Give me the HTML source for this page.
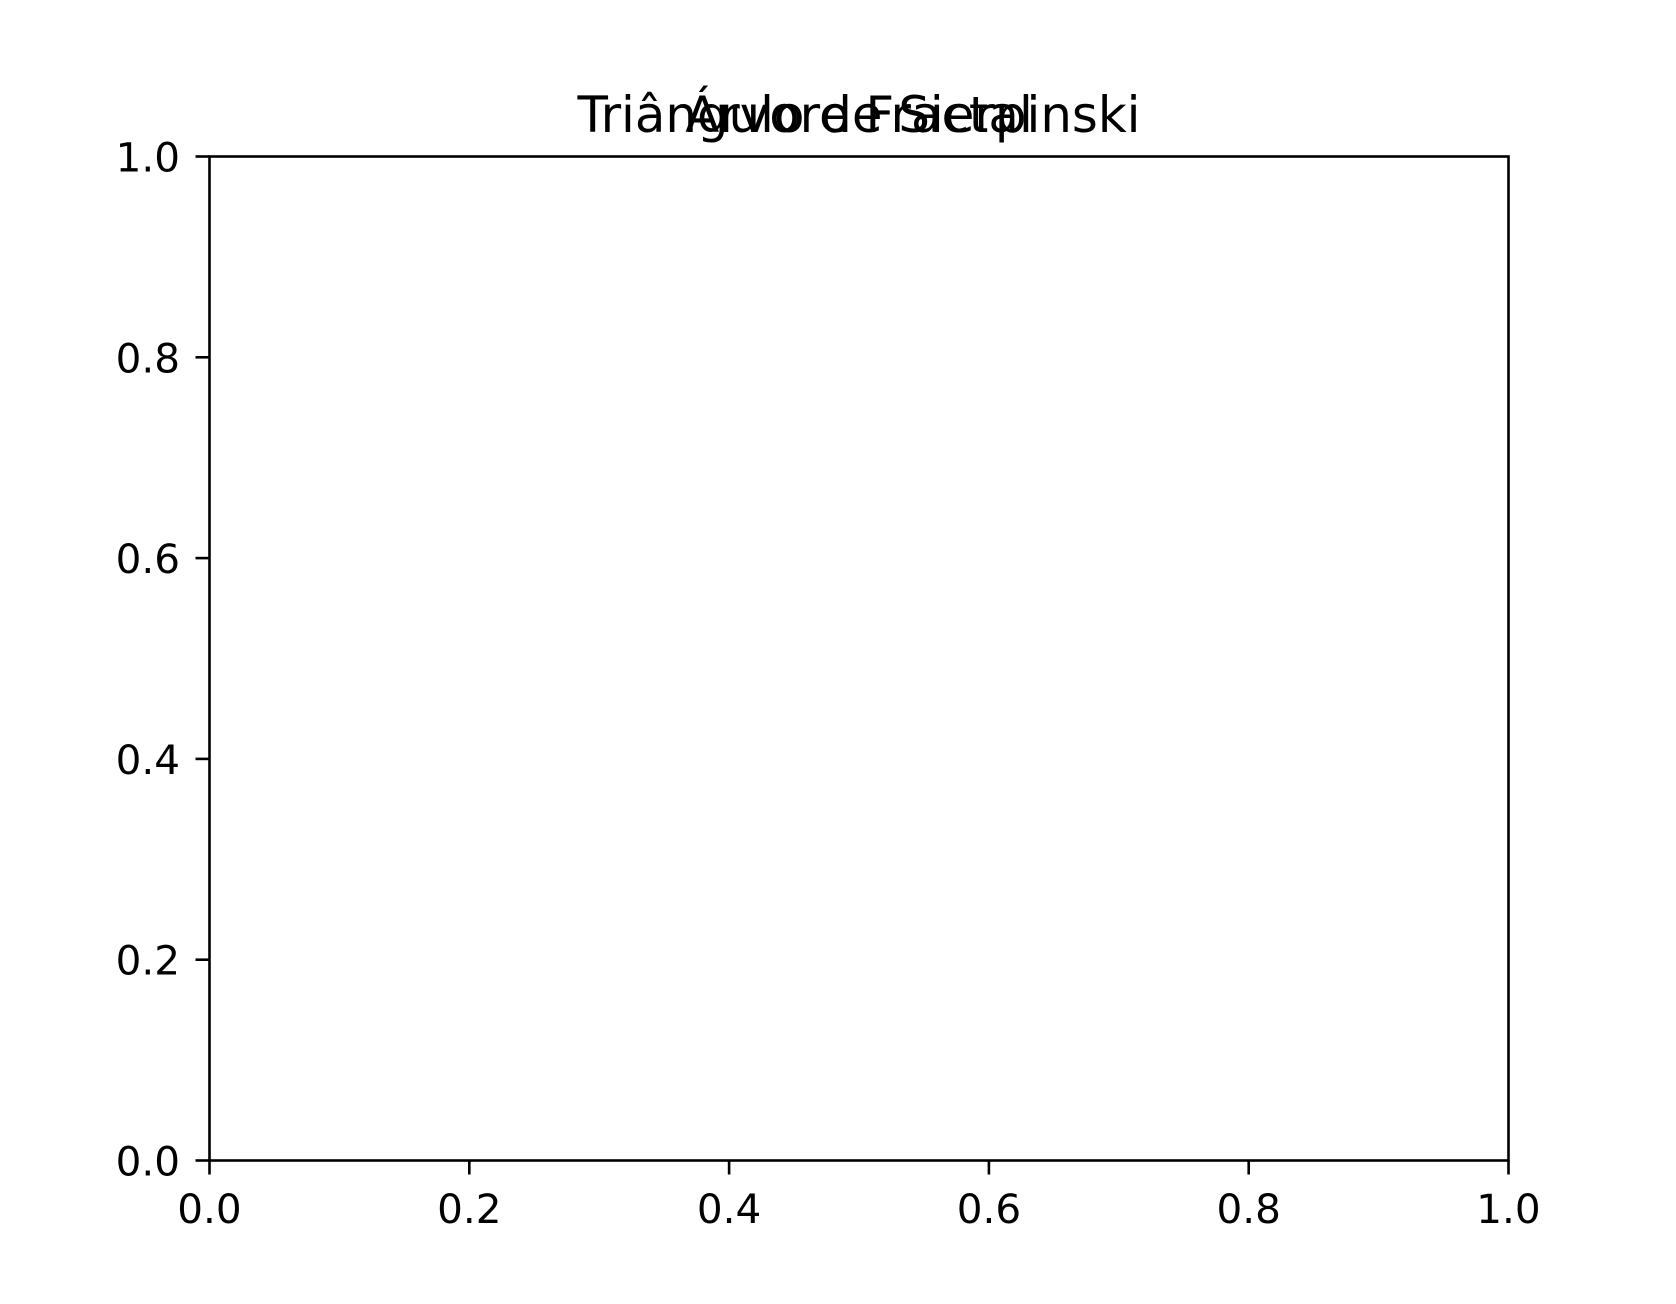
<!DOCTYPE html>
<html><head><meta charset="utf-8"><style>
html,body{margin:0;padding:0;background:#fff;}
svg{display:block;font-family:"DejaVu Sans","Liberation Sans",sans-serif;}
</style></head><body>
<svg id="chart" width="1676" height="1304" viewBox="0 0 1676 1304">
<rect width="1676" height="1304" fill="#fff"/>
<text x="859" y="132" font-size="49.8" text-anchor="middle" fill="#000">Triângulo de Sierpinski</text>
<text x="859" y="132" font-size="49.8" text-anchor="middle" fill="#000">Árvore Fractal</text>
<g id="ticks"></g>
<rect x="209.5" y="156.5" width="1299" height="1004" fill="none" stroke="#000" stroke-width="2.6"/>
</svg>
<script>
const xTicks = [0.0, 0.2, 0.4, 0.6, 0.8, 1.0];
const yTicks = [0.0, 0.2, 0.4, 0.6, 0.8, 1.0];
const xTickLabels = ["0.0","0.2","0.4","0.6","0.8","1.0"];
const yTickLabels = ["0.0","0.2","0.4","0.6","0.8","1.0"];
const L=209.5,R=1508.5,T=156.5,B=1160.5;
const xs=v=>L+(R-L)*v, ys=v=>B-(B-T)*v;
const g=document.getElementById('ticks');
const NS='http://www.w3.org/2000/svg';
xTicks.forEach((v,i)=>{
  const l=document.createElementNS(NS,'line');
  l.setAttribute('x1',xs(v));l.setAttribute('x2',xs(v));l.setAttribute('y1',B);l.setAttribute('y2',B+14);
  l.setAttribute('stroke','#000');l.setAttribute('stroke-width','2.6');
  
  
  g.appendChild(l);
  const t=document.createElementNS(NS,'text');
  t.setAttribute('x',xs(v));t.setAttribute('y',1223);t.setAttribute('font-size','40.5');t.setAttribute('text-anchor','middle');
  t.textContent=xTickLabels[i];
  
  
  g.appendChild(t);
});
yTicks.forEach((v,i)=>{
  const l=document.createElementNS(NS,'line');
  l.setAttribute('x1',L-14);l.setAttribute('x2',L);l.setAttribute('y1',ys(v));l.setAttribute('y2',ys(v));
  l.setAttribute('stroke','#000');l.setAttribute('stroke-width','2.6');
  
  
  g.appendChild(l);
  const t=document.createElementNS(NS,'text');
  t.setAttribute('x',180);t.setAttribute('y',ys(v)+15);t.setAttribute('font-size','40.5');t.setAttribute('text-anchor','end');
  t.textContent=yTickLabels[i];
  
  
  g.appendChild(t);
});
</script>
</body></html>
